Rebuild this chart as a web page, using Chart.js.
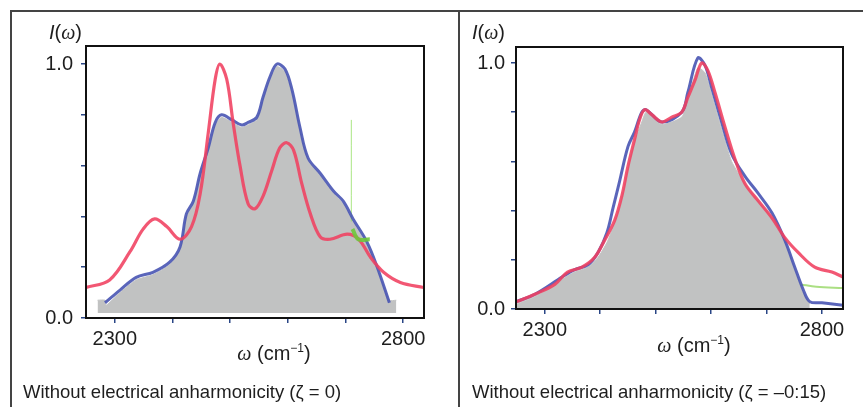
<!DOCTYPE html>
<html>
<head>
<meta charset="utf-8">
<script src="https://cdn.jsdelivr.net/npm/chart.js@4.4.1/dist/chart.umd.min.js"></script>
<style>
    body { margin: 0; background: #fff; font-family: "Liberation Sans", Arial, sans-serif; }
    #page { position: relative; width: 863px; height: 407px; overflow: hidden; }
    .pane { position: absolute; top: 0; }
    .rule { position: absolute; background: #444; }
    .txt { position: absolute; color: #1e1e1e; white-space: nowrap; }
    .ylab { font-size: 20px; }
    .xlab { font-size: 20px; transform: translateX(-50%); }
    .cap { font-size: 18.5px; }
    .w { font-family: "Liberation Serif", "DejaVu Serif", serif; font-style: italic; }
</style>
</head>
<body>
<div id="page">
    <div class="pane" style="left:0;width:458px;height:407px"><canvas id="leftChart" width="458" height="407"></canvas></div>
    <div class="pane" style="left:458px;width:405px;height:407px"><canvas id="rightChart" width="405" height="407"></canvas></div>

    <div class="rule" style="left:10px;top:10px;width:853px;height:1.5px"></div>
    <div class="rule" style="left:10px;top:10px;width:1.5px;height:397px"></div>
    <div class="rule" style="left:458px;top:10px;width:1.5px;height:397px"></div>

    <div class="txt ylab" style="left:49px;top:21px"><i>I</i>(<span class="w">ω</span>)</div>
    <div class="txt ylab" style="left:472px;top:21px"><i>I</i>(<span class="w">ω</span>)</div>
    <div class="txt xlab" style="left:274px;top:341px"><span class="w">ω</span> (cm<sup style="font-size:12px">−1</sup>)</div>
    <div class="txt xlab" style="left:694px;top:333px"><span class="w">ω</span> (cm<sup style="font-size:12px">−1</sup>)</div>
    <div class="txt cap" style="left:23px;top:381px">Without electrical anharmonicity (ζ = 0)</div>
    <div class="txt cap" style="left:472px;top:381px">Without electrical anharmonicity (ζ = –0:15)</div>
</div>

<script>
// ---- data ----
const xTicks = [2300, 2400, 2500, 2600, 2700, 2800];
const yTicks = [0, 0.2, 0.4, 0.6, 0.8, 1.0];
const xLabels = [2300, 2800];
const yLabels = [0, 1.0];

// left panel (zeta = 0)
const redW1 = [2250, 2291, 2326, 2349, 2369, 2390, 2413, 2433, 2448, 2462, 2474, 2482, 2494, 2505, 2517, 2531, 2543, 2557, 2572, 2586, 2598, 2610, 2624, 2639, 2656, 2673, 2703, 2723, 2743, 2766, 2795, 2836];
const redI1 = [0.12, 0.15, 0.26, 0.35, 0.39, 0.36, 0.31, 0.36, 0.49, 0.73, 0.94, 1.0, 0.94, 0.77, 0.60, 0.45, 0.43, 0.48, 0.58, 0.67, 0.69, 0.66, 0.53, 0.41, 0.32, 0.31, 0.33, 0.31, 0.24, 0.18, 0.14, 0.12];
const blueW1 = [2283, 2309, 2337, 2366, 2395, 2413, 2424, 2436, 2448, 2462, 2474, 2485, 2503, 2520, 2531, 2546, 2557, 2569, 2581, 2595, 2607, 2621, 2635, 2656, 2679, 2696, 2713, 2737, 2755, 2776];
const blueI1 = [0.06, 0.11, 0.16, 0.18, 0.22, 0.28, 0.41, 0.46, 0.57, 0.67, 0.77, 0.80, 0.78, 0.76, 0.77, 0.79, 0.87, 0.95, 1.0, 0.98, 0.90, 0.75, 0.63, 0.57, 0.50, 0.46, 0.39, 0.30, 0.20, 0.06];
const greyW1 = [2270, 2283, 2285, 2309, 2337, 2366, 2395, 2413, 2424, 2436, 2448, 2462, 2474, 2485, 2503, 2520, 2531, 2546, 2557, 2569, 2581, 2595, 2607, 2621, 2635, 2656, 2679, 2696, 2713, 2737, 2755, 2776, 2788];
const greyI1 = [0.07, 0.07, 0.05, 0.10, 0.15, 0.17, 0.21, 0.27, 0.40, 0.45, 0.56, 0.66, 0.76, 0.79, 0.77, 0.75, 0.76, 0.78, 0.86, 0.94, 0.99, 0.97, 0.89, 0.74, 0.62, 0.56, 0.49, 0.45, 0.38, 0.29, 0.19, 0.07, 0.07];
const greenW1 = [2712, 2722, 2742];
const greenI1 = [0.35, 0.31, 0.31];
const greenStemW1 = [2710, 2710];
const greenStemI1 = [0.38, 0.78];

// right panel (zeta = -0.15)
const redW2 = [2249, 2282, 2318, 2341, 2367, 2390, 2408, 2426, 2439, 2450, 2462, 2471, 2480, 2493, 2511, 2529, 2547, 2558, 2571, 2583, 2594, 2607, 2625, 2643, 2661, 2685, 2710, 2733, 2757, 2787, 2818, 2838];
const redI2 = [0.03, 0.06, 0.10, 0.15, 0.17, 0.21, 0.28, 0.36, 0.46, 0.58, 0.69, 0.77, 0.81, 0.79, 0.76, 0.78, 0.80, 0.86, 0.93, 1.0, 0.97, 0.88, 0.74, 0.61, 0.51, 0.44, 0.37, 0.29, 0.23, 0.17, 0.15, 0.13];
const blueW2 = [2249, 2282, 2331, 2354, 2378, 2396, 2412, 2423, 2435, 2450, 2462, 2475, 2483, 2511, 2547, 2558, 2576, 2589, 2601, 2619, 2637, 2661, 2685, 2710, 2733, 2751, 2766, 2778, 2800, 2838];
const blueI2 = [0.03, 0.06, 0.13, 0.16, 0.18, 0.23, 0.31, 0.41, 0.52, 0.66, 0.72, 0.80, 0.81, 0.76, 0.80, 0.88, 1.02, 0.99, 0.90, 0.76, 0.63, 0.54, 0.47, 0.39, 0.28, 0.17, 0.08, 0.03, 0.025, 0.015];
const greyW2 = [2249, 2282, 2331, 2354, 2378, 2396, 2412, 2426, 2439, 2450, 2462, 2475, 2483, 2511, 2547, 2558, 2576, 2589, 2601, 2619, 2637, 2661, 2685, 2710, 2733, 2751, 2766, 2778];
const greyI2 = [0.02, 0.05, 0.12, 0.15, 0.17, 0.21, 0.27, 0.35, 0.45, 0.57, 0.68, 0.76, 0.80, 0.75, 0.78, 0.85, 0.98, 0.96, 0.87, 0.73, 0.60, 0.51, 0.44, 0.37, 0.28, 0.16, 0.07, 0.02];
const greenW2 = [2762, 2790, 2838];
const greenI2 = [0.10, 0.09, 0.085];

const RED = 'rgba(240, 64, 96, 0.88)';
const BLUE = 'rgba(72, 84, 178, 0.9)';
const GREY = 'rgb(193, 194, 194)';
const GREEN = 'rgba(110, 200, 60, 0.9)';

function pts(ws, is) {
    return ws.map((w, i) => ({ x: w, y: is[i] }));
}

// black box round the plot area
const framePlugin = {
    id: 'frame',
    afterDatasetsDraw(chart) {
        const { ctx, chartArea: a } = chart;
        ctx.save();
        ctx.strokeStyle = '#111';
        ctx.lineWidth = 2;
        ctx.strokeRect(a.left, a.top, a.right - a.left, a.bottom - a.top);
        ctx.restore();
    }
};

function buildChart(id, datasets, p) {
    return new Chart(document.getElementById(id), {
        type: 'line',
        data: { datasets: datasets },
        plugins: [framePlugin],
        options: {
            responsive: false,
            animation: false,
            layout: { padding: p.padding },
            plugins: { legend: { display: false }, tooltip: { enabled: false } },
            elements: { point: { radius: 0 } },
            scales: {
                x: {
                    type: 'linear',
                    min: p.xMin,
                    max: p.xMax,
                    afterBuildTicks: s => { s.ticks = xTicks.map(v => ({ value: v })); },
                    afterFit: s => { s.height = 40; },
                    grid: { drawOnChartArea: false, drawTicks: true, tickLength: 5, color: '#2a4686', lineWidth: 1.5 },
                    border: { display: true, color: '#111', width: 2 },
                    ticks: {
                        padding: 4,
                        maxRotation: 0,
                        autoSkip: false,
                        color: '#1e1e1e',
                        font: { family: 'Liberation Sans', size: 20 },
                        callback: v => xLabels.includes(v) ? String(v) : ''
                    }
                },
                y: {
                    min: 0,
                    max: p.yMax,
                    afterBuildTicks: s => { s.ticks = yTicks.map(v => ({ value: v })); },
                    afterFit: s => { s.width = p.yWidth; },
                    grid: { drawOnChartArea: false, drawTicks: true, tickLength: 5, color: '#2a4686', lineWidth: 1.5 },
                    border: { display: true, color: '#111', width: 2 },
                    ticks: {
                        padding: p.yPad,
                        autoSkip: false,
                        color: '#1e1e1e',
                        font: { family: 'Liberation Sans', size: 20 },
                        callback: v => yLabels.includes(v) ? v.toFixed(1) : ''
                    }
                }
            }
        }
    });
}

function lineSet(data, color, width) {
    return { data: data, borderColor: color, borderWidth: width, tension: 0.35, fill: false };
}

// first dataset is drawn on top, so the grey area goes last
buildChart('leftChart', [
    lineSet(pts(greenW1, greenI1), GREEN, 4),
    lineSet(pts(redW1, redI1), RED, 3.2),
    lineSet(pts(blueW1, blueI1), BLUE, 3),
    lineSet(pts(greenStemW1, greenStemI1), 'rgba(140, 220, 90, 0.75)', 1),
    { data: pts(greyW1, greyI1), borderColor: GREY, borderWidth: 1, backgroundColor: GREY, tension: 0.2, fill: { value: 0.02 } }
], { padding: { left: 6, top: 46, right: 34, bottom: 49 }, yWidth: 80, xMin: 2250, xMax: 2836, yMax: 1.071, yPad: 8 });

buildChart('rightChart', [
    lineSet(pts(redW2, redI2), RED, 3.2),
    lineSet(pts(blueW2, blueI2), BLUE, 3),
    lineSet(pts(greenW2, greenI2), 'rgba(150, 215, 100, 0.8)', 2),
    { data: pts(greyW2, greyI2), borderColor: GREY, borderWidth: 1, backgroundColor: GREY, tension: 0.2, fill: 'origin' }
], { padding: { left: 4, top: 47, right: 20, bottom: 58 }, yWidth: 54, xMin: 2248, xMax: 2838, yMax: 1.065, yPad: 6 });
</script>
</body>
</html>
